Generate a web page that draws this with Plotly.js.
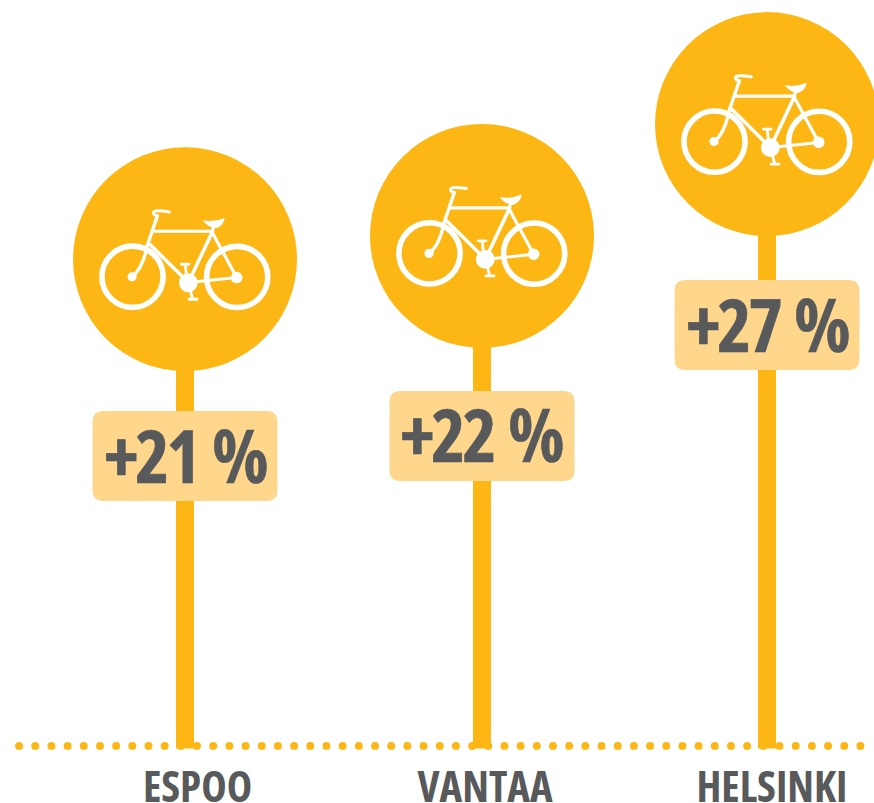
<!DOCTYPE html>
<html>
<head>
<meta charset="utf-8">
<script src="https://cdn.plot.ly/plotly-3.0.1.min.js"></script>
<style>
html,body{margin:0;padding:0;background:#fff;overflow:hidden}
#chart{width:874px;height:803px}
.shapelayer path{stroke-linecap:round !important;stroke-linejoin:round !important}
text{font-stretch:75% !important}
.annotation-text{letter-spacing:-3.2px;word-spacing:5px;stroke:#58595b;stroke-width:0.6px}
</style>
</head>
<body>
<div id="chart"></div>
<script>
// Data
const categories = ['ESPOO', 'VANTAA', 'HELSINKI'];
const badgeTexts = ['+21 %', '+22 %', '+27 %'];
const signHeights = [21.05, 22.06, 26.9];
const badgeHeights = [12.53, 13.4, 18.2];
const stemPositions = [0, 1.0206, 2];
const labelPositions = [0.043, 1.031, 2.017];

// Style constants
const ORANGE = '#fdb714', BADGE = '#fed68c', INK = '#58595b';
const FONT = '"Open Sans",sans-serif';
const PX_X = 291, PX_Y = 23.1;

// Bicycle icon (offsets in px around the sign centre, y up)
const P = (x, y) => ((x - 345) / 3).toFixed(2) + ',' + (-(y - 342) / 3).toFixed(2);
const strokes = [
  {w: 3.4, d: `M${P(262,212)} L${P(232,300)} Q${P(218,370)} ${P(186,395)}`},
  {w: 3, d: `M${P(262,212)} Q${P(246,208)} ${P(252,199)} Q${P(262,194)} ${P(298,200)}`},
  {w: 3.2, d: `M${P(250,258)} L${P(425,258)}`},
  {w: 3.6, d: `M${P(240,298)} L${P(355,412)}`},
  {w: 3.6, d: `M${P(428,258)} L${P(355,412)}`},
  {w: 3.2, d: `M${P(428,264)} L${P(500,397)}`},
  {w: 3, d: `M${P(355,412)} L${P(500,397)}`},
  {w: 3, d: `M${P(433,240)} L${P(426,258)}`},
  {w: 2.8, d: `M${P(346,358)} L${P(350,400)} M${P(334,357)} L${P(357,357)}`},
  {w: 2.8, d: `M${P(360,430)} L${P(368,462)} M${P(357,462)} L${P(381,462)}`}
];
const fills = [
  `M${P(398,225)} Q${P(430,232)} ${P(464,218)} Q${P(462,240)} ${P(438,249)} Q${P(412,246)} ${P(398,225)} Z`
];
const discs = [
  {x: -52.5, y: -17.5, r: 30.6, w: 5.6, fill: 'rgba(0,0,0,0)'},
  {x: 52.2, y: -17.7, r: 30.6, w: 5.6, fill: 'rgba(0,0,0,0)'},
  {x: -53, y: -17.5, r: 4.6, w: 0, fill: '#fff'},
  {x: 51.7, y: -18.3, r: 5.8, w: 0, fill: '#fff'},
  {x: 3.3, y: -23.5, r: 9.4, w: 0, fill: '#fff'}
];

function roundedRect(hw, hh, r) {
  return `M${-hw + r},${hh} L${hw - r},${hh} Q${hw},${hh} ${hw},${hh - r} L${hw},${-hh + r} Q${hw},${-hh} ${hw - r},${-hh} ` +
         `L${-hw + r},${-hh} Q${-hw},${-hh} ${-hw},${-hh + r} L${-hw},${hh - r} Q${-hw},${hh} ${-hw + r},${hh} Z`;
}

const anchored = (x, y) => ({xref: 'x', yref: 'y', xsizemode: 'pixel', ysizemode: 'pixel', xanchor: x, yanchor: y, layer: 'above'});
const shapes = [{
  type: 'line', xref: 'paper', yref: 'y', layer: 'below',
  x0: 19 / 874, x1: 866 / 874, y0: -0.02, y1: -0.02,
  line: {color: ORANGE, width: 7.8, dash: '0.1px,16.08px'}
}];
stemPositions.forEach((x, i) => {
  const y = signHeights[i];
  strokes.forEach(s => shapes.push({...anchored(x, y), type: 'path', path: s.d, line: {color: '#fff', width: s.w}}));
  fills.forEach(d => shapes.push({...anchored(x, y), type: 'path', path: d, fillcolor: '#fff', line: {width: 0}}));
  discs.forEach(c => shapes.push({...anchored(x, y), type: 'circle', x0: c.x - c.r, x1: c.x + c.r, y0: c.y - c.r, y1: c.y + c.r,
    fillcolor: c.fill, line: {color: '#fff', width: c.w}}));
  shapes.push({...anchored(x, badgeHeights[i]), type: 'path', path: roundedRect(92.5, 45, 11), fillcolor: BADGE, line: {width: 0}});
});

const annotations = stemPositions.map((x, i) => ({
  x, y: badgeHeights[i], xref: 'x', yref: 'y', text: badgeTexts[i], showarrow: false, yshift: 2,
  xanchor: 'center', yanchor: 'middle', font: {family: FONT, size: 73, color: INK, weight: 700}
}));

const data = [
  {type: 'bar', x: stemPositions, y: signHeights, base: -0.13, width: 18 / PX_X,
   marker: {color: ORANGE, line: {width: 0}}, hoverinfo: 'skip', showlegend: false},
  {type: 'scatter', mode: 'markers', x: stemPositions, y: signHeights, text: categories,
   marker: {size: 224, color: ORANGE, line: {width: 0}}, cliponaxis: false, hoverinfo: 'text', showlegend: false}
];

const layout = {
  width: 874, height: 803, autosize: false,
  margin: {l: 0, r: 0, t: 0, b: 45},
  paper_bgcolor: '#fff', plot_bgcolor: '#fff', showlegend: false,
  xaxis: {
    range: [-185 / PX_X, (874 - 185) / PX_X], fixedrange: true, showgrid: false, zeroline: false, showline: false,
    tickmode: 'array', tickvals: labelPositions, ticktext: categories,
    ticks: '', tickangle: 0,
    tickfont: {family: FONT, size: 43, color: INK, weight: 700}
  },
  yaxis: {range: [-12.5 / PX_Y, 745.5 / PX_Y], visible: false, fixedrange: true},
  shapes, annotations
};

Plotly.newPlot('chart', data, layout, {displayModeBar: false, staticPlot: true});
</script>
</body>
</html>
